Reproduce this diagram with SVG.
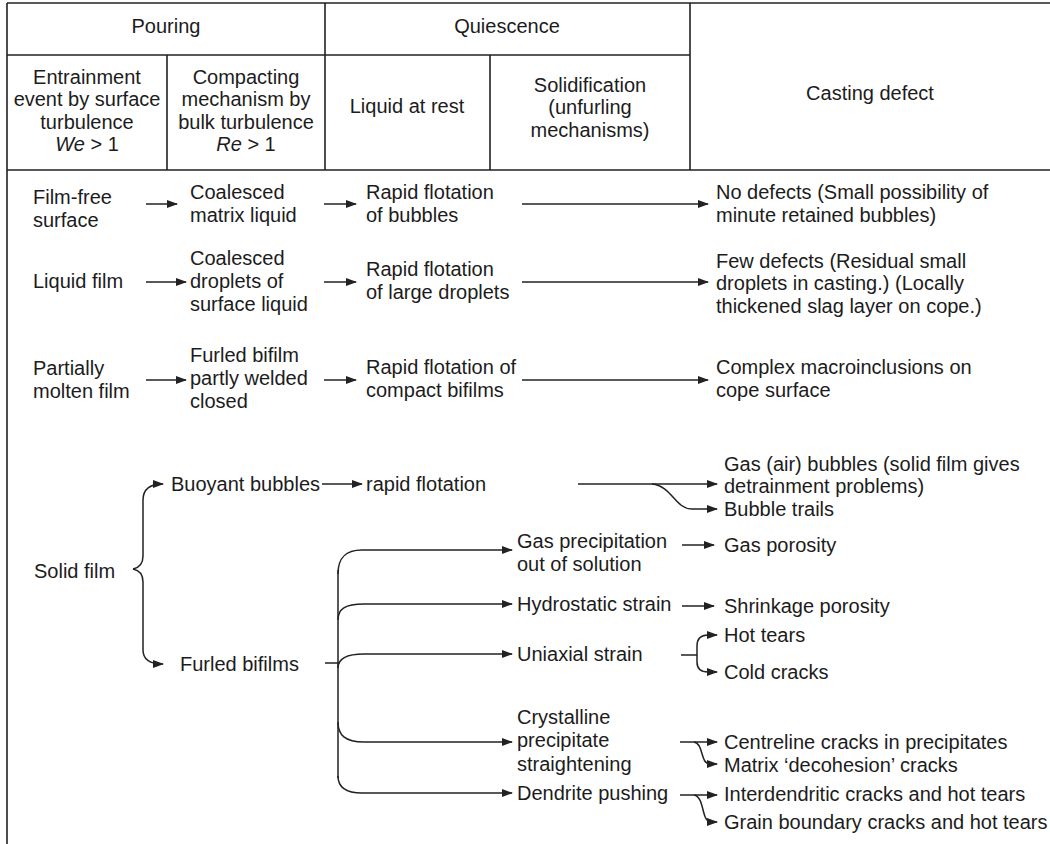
<svg xmlns="http://www.w3.org/2000/svg" width="1050" height="844" viewBox="0 0 1050 844">
<style>
text{font-family:"Liberation Sans",Arial,sans-serif;font-size:20px;fill:#1c1c1c}
.c{text-anchor:middle}
.t{stroke:#222;stroke-width:1.6;fill:none}
.a{stroke:#222;stroke-width:1.5;fill:none;marker-end:url(#ah)}
.l{stroke:#222;stroke-width:1.5;fill:none}
</style>
<defs>
<marker id="ah" markerUnits="userSpaceOnUse" markerWidth="11" markerHeight="8" refX="10" refY="4" orient="auto">
<path d="M0,0 L11,4 L0,8 z" fill="#222"/>
</marker>
</defs>
<rect width="1050" height="844" fill="#fff"/>
<g id="table">
<path class="t" d="M7,3 H1050 M7,55 H690 M7,170 H1050 M7,3 V844 M325,3 V170 M690,3 V170 M167,55 V170 M490,55 V170"/>
</g>
<g id="header">
<text class="c" x="166" y="33">Pouring</text>
<text class="c" x="507" y="33">Quiescence</text>
<text class="c" x="87" y="84">Entrainment</text>
<text class="c" x="87" y="106">event by surface</text>
<text class="c" x="87" y="129">turbulence</text>
<text class="c" x="87" y="151"><tspan font-style="italic">We</tspan> &gt; 1</text>
<text class="c" x="246" y="84">Compacting</text>
<text class="c" x="246" y="106">mechanism by</text>
<text class="c" x="246" y="129">bulk turbulence</text>
<text class="c" x="246" y="151"><tspan font-style="italic">Re</tspan> &gt; 1</text>
<text class="c" x="407" y="113">Liquid at rest</text>
<text class="c" x="590" y="92">Solidification</text>
<text class="c" x="590" y="114">(unfurling</text>
<text class="c" x="590" y="137">mechanisms)</text>
<text class="c" x="870" y="100">Casting defect</text>
</g>
<g id="n-filmfree"><text x="33" y="204">Film-free</text><text x="33" y="227">surface</text></g>
<g id="n-coalesced-matrix"><text x="190" y="199">Coalesced</text><text x="190" y="222">matrix liquid</text></g>
<g id="n-rapid-bubbles"><text x="366" y="199">Rapid flotation</text><text x="366" y="222">of bubbles</text></g>
<g id="n-nodefects"><text x="716" y="199">No defects (Small possibility of</text><text x="716" y="222">minute retained bubbles)</text></g>
<g id="n-liquidfilm"><text x="33" y="288">Liquid film</text></g>
<g id="n-coalesced-droplets"><text x="190" y="265">Coalesced</text><text x="190" y="288">droplets of</text><text x="190" y="311">surface liquid</text></g>
<g id="n-rapid-droplets"><text x="366" y="276">Rapid flotation</text><text x="366" y="299">of large droplets</text></g>
<g id="n-fewdefects"><text x="716" y="268">Few defects (Residual small</text><text x="716" y="290">droplets in casting.) (Locally</text><text x="716" y="313">thickened slag layer on cope.)</text></g>
<g id="n-partially"><text x="33" y="375">Partially</text><text x="33" y="398">molten film</text></g>
<g id="n-furled-welded"><text x="190" y="362">Furled bifilm</text><text x="190" y="385">partly welded</text><text x="190" y="408">closed</text></g>
<g id="n-rapid-compact"><text x="366" y="374">Rapid flotation of</text><text x="366" y="397">compact bifilms</text></g>
<g id="n-complex"><text x="716" y="374">Complex macroinclusions on</text><text x="716" y="397">cope surface</text></g>
<g id="n-solidfilm"><text x="34" y="578">Solid film</text></g>
<g id="n-buoyant"><text x="171" y="491">Buoyant bubbles</text></g>
<g id="n-rapidflot"><text x="366" y="491">rapid flotation</text></g>
<g id="n-gasair"><text x="724" y="471">Gas (air) bubbles (solid film gives</text><text x="724" y="493">detrainment problems)</text></g>
<g id="n-bubbletrails"><text x="724" y="516">Bubble trails</text></g>
<g id="n-furled"><text x="180" y="671">Furled bifilms</text></g>
<g id="n-gasprecip"><text x="517" y="548">Gas precipitation</text><text x="517" y="571">out of solution</text></g>
<g id="n-gasporosity"><text x="724" y="552">Gas porosity</text></g>
<g id="n-hydro"><text x="517" y="611">Hydrostatic strain</text></g>
<g id="n-shrink"><text x="724" y="613">Shrinkage porosity</text></g>
<g id="n-uniaxial"><text x="517" y="661">Uniaxial strain</text></g>
<g id="n-hottears"><text x="724" y="642">Hot tears</text></g>
<g id="n-coldcracks"><text x="724" y="679">Cold cracks</text></g>
<g id="n-crystalline"><text x="517" y="724">Crystalline</text><text x="517" y="747">precipitate</text><text x="517" y="771">straightening</text></g>
<g id="n-centreline"><text x="724" y="749">Centreline cracks in precipitates</text></g>
<g id="n-matrix"><text x="724" y="772">Matrix ‘decohesion’ cracks</text></g>
<g id="n-dendrite"><text x="517" y="800">Dendrite pushing</text></g>
<g id="n-interdendritic"><text x="724" y="801">Interdendritic cracks and hot tears</text></g>
<g id="n-grain"><text x="724" y="829">Grain boundary cracks and hot tears</text></g>
<g id="connectors">
<path class="a" d="M146,204 H177"/>
<path class="a" d="M324,204 H356"/>
<path class="a" d="M522,204 H708"/>
<path class="a" d="M146,282 H186"/>
<path class="a" d="M324,282 H356"/>
<path class="a" d="M522,282 H708"/>
<path class="a" d="M146,380 H186"/>
<path class="a" d="M324,380 H356"/>
<path class="a" d="M522,380 H708"/>
<path class="a" d="M133,569 Q143,567 143,556 L143,500 Q143,484 163,484"/>
<path class="a" d="M133,569 Q143,571 143,582 L143,650 Q143,664 163,664"/>
<path class="a" d="M322,484 H362"/>
<path class="a" d="M578,484 H717"/>
<path class="a" d="M652,484 C672,486 675,509 692,509 H717"/>
<path class="l" d="M325,663 H338 M338,570 V778"/>
<path class="a" d="M338,574 C338,558 345,550 362,550 H512"/>
<path class="a" d="M338,620 C338,609 345,604 364,604 H512"/>
<path class="a" d="M338,668 C338,659 345,654 364,654 H512"/>
<path class="a" d="M338,722 C338,735 345,742 364,742 H512"/>
<path class="a" d="M338,776 C338,787 345,793 362,793 H512"/>
<path class="a" d="M682,545 H714"/>
<path class="a" d="M682,606 H714"/>
<path class="l" d="M681,655 H697"/>
<path class="a" d="M697,655 V646 Q697,635 708,635 H717"/>
<path class="a" d="M697,655 V662 Q697,672 708,672 H717"/>
<path class="a" d="M680,742 H717"/>
<path class="a" d="M694,742 C704,744 700,764 710,764 H717"/>
<path class="a" d="M680,795 H717"/>
<path class="a" d="M694,795 C705,797 701,822 711,822 H717"/>
</g>
</svg>
